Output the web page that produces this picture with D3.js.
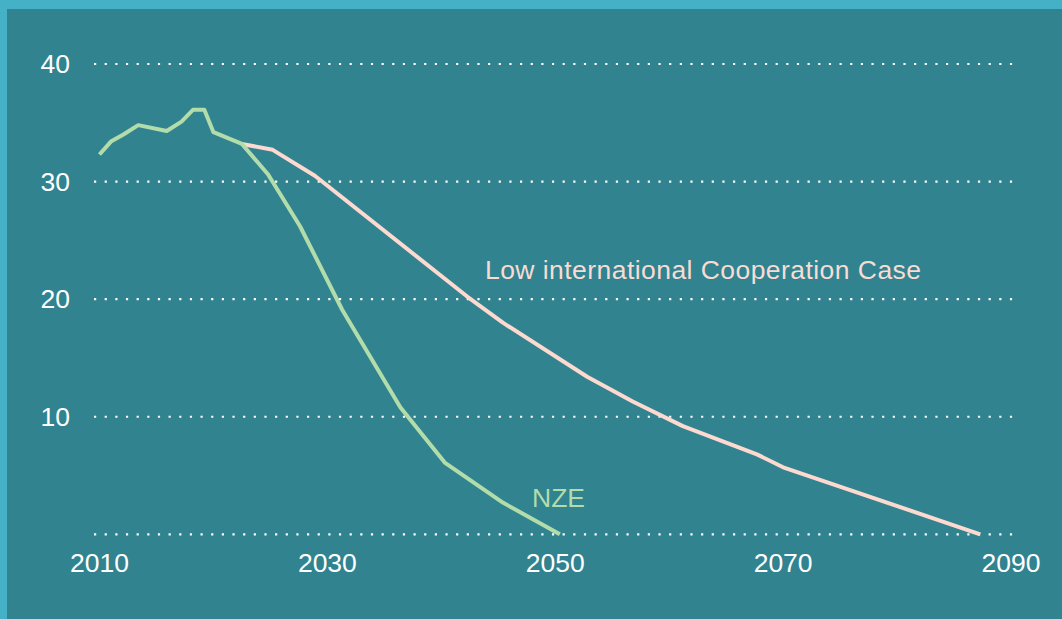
<!DOCTYPE html>
<html>
<head>
<meta charset="utf-8">
<script src="https://cdn.jsdelivr.net/npm/d3@7"></script>
<style>
  html, body { margin: 0; padding: 0; background: #44b1c7; }
  svg { display: block; }
</style>
</head>
<body>
<svg id="chart" width="1062" height="619"></svg>
<script>
// ---- data ----
const nzeYears  = [2010, 2011, 2012.1, 2013.4, 2015.9, 2017.2, 2018.2, 2019.2, 2020.0, 2022.5, 2024.8, 2027.6, 2031.3, 2036.4, 2040.3, 2045.4, 2050.4];
const nzeValues = [32.3, 33.4, 34.0,   34.8,   34.3,   35.1,   36.1,   36.1,   34.2,   33.2,   30.6,   26.2,   19.1,   10.8,   6.1,    2.7,    0.0];

const licYears  = [2022.5, 2025.2, 2028.9, 2042.3, 2045.4, 2052.8, 2056.8, 2061.2, 2067.7, 2070.0, 2087.3];
const licValues = [33.2,   32.7,   30.5,   20.2,   18.0,   13.4,   11.3,   9.2,    6.8,    5.7,    0.0];

const xTicks = [2010, 2030, 2050, 2070, 2090];
const yTicks = [0, 10, 20, 30, 40];
const yTickLabels = ["", "10", "20", "30", "40"];

const labelLIC = "Low international Cooperation Case";
const labelNZE = "NZE";

// ---- drawing ----
const svg = d3.select("#chart");
const W = 1062, H = 619;

svg.append("rect").attr("x", 7).attr("y", 9).attr("width", W - 7).attr("height", H - 9)
  .attr("fill", "#30838f");

const x = d3.scaleLinear().domain([2010, 2090]).range([99.5, 1011]);
const y = d3.scaleLinear().domain([0, 40]).range([534.3, 64]);

const font = "'Liberation Sans', Arial, Helvetica, sans-serif";

// grid
svg.append("g").selectAll("line").data(yTicks).join("line")
  .attr("x1", 94).attr("x2", 1017)
  .attr("y1", d => y(d)).attr("y2", d => y(d))
  .attr("stroke", "#ffffff").attr("stroke-width", 2.2)
  .attr("stroke-dasharray", "2.2,8.45");

// y axis labels
svg.append("g").selectAll("text").data(yTicks).join("text")
  .attr("x", 70).attr("y", d => y(d) + 9)
  .attr("text-anchor", "end")
  .attr("font-family", font).attr("font-size", 26.5)
  .attr("fill", "#ffffff")
  .text((d, i) => yTickLabels[i]);

// x axis labels
svg.append("g").selectAll("text").data(xTicks).join("text")
  .attr("x", d => x(d)).attr("y", 571.5)
  .attr("text-anchor", "middle")
  .attr("font-family", font).attr("font-size", 26.5)
  .attr("fill", "#ffffff")
  .text(d => d);

const line = d3.line().x(d => x(d[0])).y(d => y(d[1]));

svg.append("path")
  .datum(licYears.map((d, i) => [d, licValues[i]]))
  .attr("d", line)
  .attr("fill", "none").attr("stroke", "#fdd9cf").attr("stroke-width", 4)
  .attr("stroke-linejoin", "round");

svg.append("path")
  .datum(nzeYears.map((d, i) => [d, nzeValues[i]]))
  .attr("d", line)
  .attr("fill", "none").attr("stroke", "#b3dcab").attr("stroke-width", 4)
  .attr("stroke-linejoin", "round");

// labels
svg.append("text").attr("x", 485).attr("y", 278.5)
  .attr("font-family", font).attr("font-size", 26.5)
  .attr("textLength", 436).attr("lengthAdjust", "spacing")
  .attr("fill", "#f8dcd4").text(labelLIC);

svg.append("text").attr("x", 532).attr("y", 506.5)
  .attr("font-family", font).attr("font-size", 26.5)
  .attr("fill", "#b3dcab").text(labelNZE);
</script>
</body>
</html>
